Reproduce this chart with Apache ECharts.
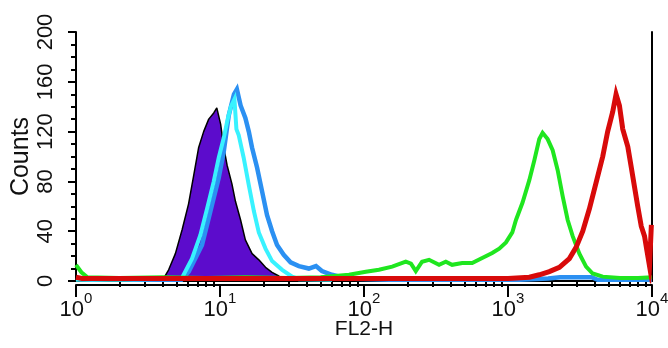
<!DOCTYPE html>
<html><head><meta charset="utf-8">
<script src="https://cdn.jsdelivr.net/npm/echarts@6/dist/echarts.min.js"></script>
<style>html,body{margin:0;padding:0;background:#fff}#c{width:668px;height:348px}</style>
</head><body><div id="c"></div>
<script>
// ---- data (FL2-H value, counts) ----
const purpleX = [3.7, 4.1, 4.4, 4.9, 5.45, 6.05, 6.55, 7.1, 7.7, 8.35, 9.05, 9.5, 10.1, 10.6, 11.2, 12.1, 12.8, 13.9, 15.0, 16.7, 18.6, 20.7, 23.0, 25.6, 28.5];
const purpleY = [0, 3, 9, 22, 41, 62, 84, 107, 120, 130, 135, 139, 126, 108, 93, 78, 64, 49, 33, 22, 17, 11, 7, 4, 0];

const blueX = [1, 1.3, 1.8, 2.5, 3.5, 5.4, 6.06, 7.5, 8.58, 9.8, 10.62, 11.5, 12.5, 13.1, 13.9, 15.0, 15.85, 16.7, 18.1, 19.6, 21.2, 23.0, 24.9, 27.7, 30.9, 35.3, 41.4, 46.4, 51.0, 59.9, 75, 150, 400, 1200, 1900, 2300, 3000, 3800, 4200, 6000, 10000];
const blueY = [2, 1, 2, 1, 1, 1, 7.5, 29, 56, 83, 104, 133, 150, 154, 141, 131, 120, 107, 91, 72, 53, 40, 29, 21, 15, 12, 10, 12, 8, 5, 2, 1, 1, 1, 2, 3, 3, 3, 1, 1, 1];

const cyanX = [1, 2, 5.42, 6.39, 7.31, 8.13, 9.05, 9.8, 10.62, 11.3, 11.9, 12.6, 13.0, 13.5, 14.6, 15.85, 17.2, 18.6, 20.7, 23.0, 27.0, 31.7, 35.3, 60];
const cyanY = [1, 1, 2, 18, 37, 58, 80, 99, 115, 130, 140, 146, 122, 117, 99, 77, 56, 39, 26, 16, 9, 3.5, 1.5, 1];

const greenX = [1, 1.09, 1.2, 2, 4, 8, 15, 30, 50, 78.7, 103, 127, 157, 195, 212, 229, 253, 283, 332, 370, 409, 481, 564, 662, 777, 869, 968, 1071, 1136, 1262, 1406, 1524, 1649, 1739, 1885, 2042, 2213, 2398, 2597, 2813, 3131, 3485, 3872, 4548, 6000, 8000, 10000];
const greenY = [13, 7, 3, 2.5, 3, 2.5, 3, 2.5, 3, 5, 7.5, 9, 11.5, 15.5, 14, 8, 15.5, 17, 13, 15.5, 13, 14.5, 14.5, 18.5, 22.5, 26, 31, 39, 49, 63, 81, 97, 114, 119, 114, 105, 89, 68, 49, 36, 22, 11.5, 6, 3.5, 2.5, 2.5, 3];

const redX = [1, 1.1, 2, 5, 10, 30, 100, 300, 1000, 1406, 1649, 1936, 2274, 2669, 2970, 3304, 3675, 4090, 4548, 4922, 5337, 5630, 5940, 6265, 6789, 7161, 7550, 7962, 8420, 8874, 9200, 9612, 9800, 9900, 10000];
const redY = [3, 2, 2, 2, 2, 2, 2, 2, 2, 3, 5, 7.5, 11, 18, 27, 40, 58, 79, 100, 120, 136, 150, 141, 122, 108, 92, 76, 60, 44, 36, 25, 12, 12, 45, 45];

// minor tick values of the log axis
const xMinorTicks = [2,3,4,5,6,7,8,9, 20,30,40,50,60,70,80,90, 200,300,400,500,600,700,800,900, 2000,3000,4000,5000,6000,7000,8000,9000];

const FONT = "'Liberation Sans', Arial, Helvetica, sans-serif";
const INK = '#111';
function pairs(xs, ys) { return xs.map((x, i) => [x, ys[i]]); }
function histo(name, xs, ys, color, width, z) {
  return { name, type: 'line', data: pairs(xs, ys), symbol: 'none', z,
    lineStyle: { color, width, join: 'miter' }, itemStyle: { color } };
}

const chart = echarts.init(document.getElementById('c'), null, { renderer: 'canvas' });
chart.setOption({
  animation: false,
  backgroundColor: '#fff',
  grid: { left: 76, right: 16, top: 32, bottom: 67, containLabel: false, outerBoundsMode: 'none' },
  xAxis: [{
    type: 'log', logBase: 10, min: 1, max: 10000, position: 'bottom', offset: 4,
    name: 'FL2-H', nameLocation: 'middle', nameGap: 34, nameMoveOverlap: false,
    nameTextStyle: { fontFamily: FONT, fontSize: 21, color: INK },
    axisLine: { show: true, onZero: false, lineStyle: { color: '#000', width: 2 } },
    axisTick: { show: true, inside: false, length: 12, lineStyle: { color: '#000', width: 2 } },
    splitLine: { show: false },
    axisLabel: {
      margin: 6,
      formatter: v => '{b|10}{s|' + Math.round(Math.log10(v)) + '}',
      rich: {
        b: { fontFamily: FONT, fontSize: 22, color: INK, verticalAlign: 'bottom', lineHeight: 30 },
        s: { fontFamily: FONT, fontSize: 15, color: INK, verticalAlign: 'top', lineHeight: 30 }
      }
    }
  }, {
    type: 'log', logBase: 10, min: 1, max: 10000, position: 'top',
    axisLine: { show: true, lineStyle: { color: '#000', width: 2 } },
    axisTick: { show: false }, axisLabel: { show: false }, splitLine: { show: false }
  }, {
    type: 'log', logBase: 10, min: 1, max: 10000, position: 'bottom', offset: 4,
    axisLine: { show: false },
    axisTick: { show: true, inside: false, length: 6, customValues: xMinorTicks, lineStyle: { color: '#000', width: 2 } },
    axisLabel: { show: false }, splitLine: { show: false }
  }],
  yAxis: [{
    type: 'value', min: 0, max: 200, interval: 40,
    name: 'Counts', nameLocation: 'middle', nameGap: 42, nameRotate: 90, nameMoveOverlap: false,
    nameTextStyle: { fontFamily: FONT, fontSize: 25, color: INK },
    axisLine: { show: true, lineStyle: { color: '#000', width: 2 } },
    axisTick: { show: true, length: 8, lineStyle: { color: '#000', width: 2 } },
    minorTick: { show: true, splitNumber: 4, length: 5, lineStyle: { color: '#000', width: 2 } },
    splitLine: { show: false },
    axisLabel: { rotate: 90, margin: 19, fontFamily: FONT, fontSize: 22, color: INK }
  }, {
    type: 'value', min: 0, max: 200, position: 'right',
    axisLine: { show: true, lineStyle: { color: '#000', width: 2 } },
    axisTick: { show: false }, axisLabel: { show: false }, splitLine: { show: false }
  }],
  series: [
    { name: 'isotype', type: 'line', data: pairs(purpleX, purpleY), symbol: 'none', z: 2,
      lineStyle: { color: '#000', width: 1.5 }, areaStyle: { color: '#5c0ccc', opacity: 1 } },
    histo('blue', blueX, blueY, '#2b90f2', 4.5, 3),
    histo('cyan', cyanX, cyanY, '#38f2ff', 4, 4),
    histo('green', greenX, greenY, '#1fe61f', 4, 5),
    histo('red', redX, redY, '#d80a0a', 5, 6)
  ]
});
</script></body></html>
